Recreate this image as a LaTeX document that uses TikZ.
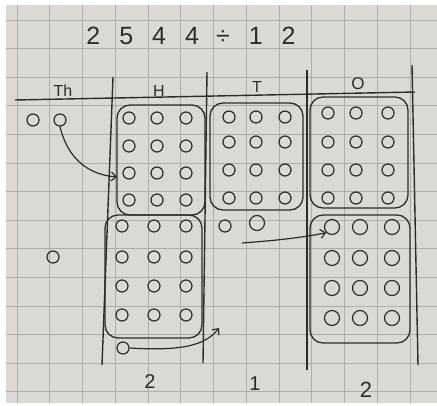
\documentclass[tikz,border=0pt]{standalone}
\usepackage{fontspec}
\setmainfont{Liberation Sans}
\usepackage{tikz}
\usetikzlibrary{arrows.meta,positioning}
\definecolor{Paper}{RGB}{220,217,213}
\definecolor{GridGray}{RGB}{176,172,169}
\definecolor{Ink}{RGB}{45,43,43}

\tikzset{
  gridline/.style={draw=GridGray, line width=0.8pt},
  rule/.style={draw=Ink, line width=1.4pt},
  counter/.style={circle, draw=Ink, line width=1.2pt, minimum size=12pt, inner sep=0pt},
  bigcounter/.style={counter, minimum size=15pt},
  group/.style={rounded corners=13pt, draw=Ink, line width=1.3pt, inner sep=0pt},
  move/.style={draw=Ink, line width=1.2pt, -{Straight Barb[length=5pt,width=9pt]}},
  hand/.style={text=Ink, inner sep=1pt}
}

\begin{document}
\begin{tikzpicture}[x=1pt,y=-1pt]
      \useasboundingbox (0,0) rectangle (437,405);
      \fill[white] (0,0) rectangle (437,405);
      \fill[Paper] (6,5) rectangle (437,403);
      % squared paper
      \foreach \i in {0,...,12}
        \draw[gridline] ({17+32.75*\i},5) -- ({17+32.75*\i},403);
      \foreach \j in {0,...,13}
        \draw[gridline] (6,{20+28.6*\j}) -- (437,{20+28.6*\j});

      % sum and place value chart
      \node[hand, font=\fontsize{25}{25}\selectfont] (title) at (191,36)
        {2\hspace{19pt}5\hspace{19pt}4\hspace{19pt}4\hspace{17pt}÷\hspace{19pt}1\hspace{19pt}2};
      \draw[rule] (15,100) -- (415,92);
      \draw[rule] (113,77) -- (102,365);
      \draw[rule] (207,72) -- (203,363);
      \draw[rule] (307,70) -- (307,370);
      \draw[rule] (412,65) -- (418,365);
      \node[hand, font=\fontsize{16}{16}\selectfont] (th) at (63,91) {Th};
      \node[hand, font=\fontsize{16}{16}\selectfont] (hh) at (159,91) {H};
      \node[hand, font=\fontsize{16}{16}\selectfont] (tt) at (257,87) {T};
      \node[hand, font=\fontsize{17}{17}\selectfont] (oo) at (358,84) {O};

      % thousands
      \node[counter] (th-1) at (33,120) {};
      \node[counter] (th-2) at (60,120) {};
      \node[counter] (thr) at (53,257) {};

      % hundreds
      \foreach \x [count=\c] in {129,157,186}
        \foreach \y [count=\r] in {118,146,173,200}
          \node[counter] (ha-\r-\c) at (\x,\y) {};
      \foreach \x [count=\c] in {122,154,186}
        \foreach \y [count=\r] in {226,257,286,315}
          \node[counter] (hb-\r-\c) at (\x,\y) {};
      \node[group, minimum width=88pt, minimum height=110pt] (hA) at (161,160) {};
      \node[group, minimum width=97pt, minimum height=123pt] (hB) at (153.5,276.5) {};
      \node[counter] (hx) at (123,348) {};

      % tens
      \foreach \x [count=\c] in {229,256,285}
        \foreach \y [count=\r] in {117,142,170,198}
          \node[counter] (ta-\r-\c) at (\x,\y) {};
      \node[group, minimum width=93pt, minimum height=107pt] (tA) at (256.5,156.5) {};
      \node[counter] (tx-1) at (225,226) {};
      \node[bigcounter] (tx-2) at (257,223) {};

      % ones
      \foreach \x [count=\c] in {328,356,388}
        \foreach \y [count=\r] in {113,142,170,198}
          \node[counter] (oa-\r-\c) at (\x,\y) {};
      \foreach \x [count=\c] in {332,360,392}
        \foreach \y [count=\r] in {227,258,288,318}
          \node[bigcounter] (ob-\r-\c) at (\x,\y) {};
      \node[group, minimum width=98pt, minimum height=111pt] (oA) at (359,152.5) {};
      \node[group, minimum width=100pt, minimum height=128pt] (oB) at (360,279) {};

      % exchanges
      \coordinate (hin) at (117,177);
      \coordinate (hout) at (219,328);
      \coordinate (tstart) at (242,243);
      \draw[move] (th-2.south) .. controls (66,152) and (82,174) .. (hin);
      \draw[move] (hx.east) .. controls (180,351) and (205,346) .. (hout);
      \draw[move] (tstart) .. controls (270,241) and (300,238) .. (ob-1-1.south west);

      % answer
      \node[hand, font=\fontsize{20}{20}\selectfont] (q-h) at (150,382) {2};
      \node[hand, font=\fontsize{20}{20}\selectfont] (q-t) at (255,384) {1};
      \node[hand, font=\fontsize{22}{22}\selectfont] (q-o) at (366,390) {2};
    \end{tikzpicture}
\end{document}
